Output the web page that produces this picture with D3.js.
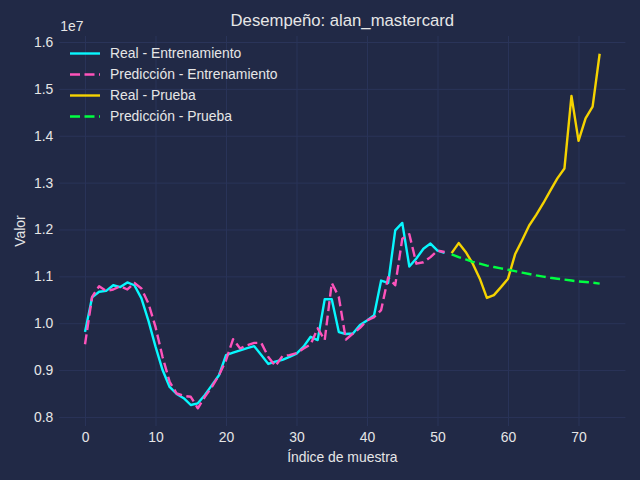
<!DOCTYPE html>
<html>
<head>
<meta charset="utf-8">
<script src="https://cdn.jsdelivr.net/npm/d3@7"></script>
<style>
  body { margin: 0; background: #212946; }
  svg { display: block; }
  text { font-family: "Liberation Sans", Arial, sans-serif; fill: #e6e6e6; }
</style>
</head>
<body>
<svg id="chart" width="640" height="480"></svg>
<script>
// valores (unidades reales, el eje muestra 1e7)
var realEntrenamiento = [
  9.815e6, 10.55e6, 10.67e6, 10.69e6, 10.81e6, 10.77e6, 10.87e6, 10.81e6, 10.53e6, 10.05e6,
  9.50e6, 9.00e6, 8.64e6, 8.49e6, 8.40e6, 8.255e6, 8.29e6, 8.47e6, 8.68e6, 8.89e6,
  9.32e6, 9.37e6, 9.42e6, 9.47e6, 9.51e6, 9.32e6, 9.13e6, 9.18e6, 9.22e6, 9.28e6,
  9.35e6, 9.50e6, 9.71e6, 9.64e6, 10.51e6, 10.51e6, 9.81e6, 9.77e6, 9.78e6, 9.96e6,
  10.06e6, 10.17e6, 10.91e6, 10.86e6, 11.98e6, 12.14e6, 11.21e6, 11.38e6, 11.59e6, 11.70e6,
  11.55e6, 11.50e6
];
var prediccionEntrenamiento = [
  9.55e6, 10.56e6, 10.79e6, 10.69e6, 10.72e6, 10.79e6, 10.72e6, 10.86e6, 10.74e6, 10.42e6,
  9.92e6, 9.28e6, 8.75e6, 8.50e6, 8.45e6, 8.43e6, 8.185e6, 8.43e6, 8.64e6, 8.89e6,
  9.21e6, 9.66e6, 9.46e6, 9.53e6, 9.58e6, 9.58e6, 9.28e6, 9.085e6, 9.30e6, 9.32e6,
  9.36e6, 9.46e6, 9.55e6, 9.89e6, 9.64e6, 10.86e6, 10.56e6, 9.65e6, 9.78e6, 9.90e6,
  10.06e6, 10.13e6, 10.28e6, 10.98e6, 10.81e6, 11.80e6, 11.90e6, 11.27e6, 11.30e6, 11.41e6,
  11.55e6, 11.52e6
];
var realPrueba = [
  11.496e6, 11.71e6, 11.52e6, 11.27e6, 10.95e6, 10.54e6, 10.60e6, 10.77e6, 10.95e6, 11.47e6,
  11.77e6, 12.085e6, 12.31e6, 12.56e6, 12.83e6, 13.09e6, 13.30e6, 14.85e6, 13.89e6, 14.37e6,
  14.62e6, 15.75e6
];
var prediccionPrueba = [
  11.47e6, 11.41e6, 11.36e6, 11.31e6, 11.27e6, 11.23e6, 11.20e6, 11.17e6, 11.14e6, 11.11e6,
  11.08e6, 11.05e6, 11.02e6, 10.995e6, 10.97e6, 10.95e6, 10.93e6, 10.91e6, 10.89e6, 10.88e6,
  10.865e6, 10.845e6
];
var inicioPrueba = realEntrenamiento.length; // 52

var series = [
  {nombre: "Real - Entrenamiento", valores: realEntrenamiento, inicio: 0, color: "#08F7FE", guion: null},
  {nombre: "Predicción - Entrenamiento", valores: prediccionEntrenamiento, inicio: 0, color: "#FE53BB", guion: "10,4.5"},
  {nombre: "Real - Prueba", valores: realPrueba, inicio: inicioPrueba, color: "#F5D300", guion: null},
  {nombre: "Predicción - Prueba", valores: prediccionPrueba, inicio: inicioPrueba, color: "#00ff41", guion: "10,4.5"}
];

var W = 640, H = 480;
var margen = {izq: 59.3, der: 14.6, arr: 36, abj: 54};

var svg = d3.select("#chart");

// dominios con 5% de margen, como matplotlib
var todos = [];
series.forEach(function(s){ todos.push(...s.valores); });
var yMin = d3.min(todos), yMax = d3.max(todos);
var yPad = (yMax - yMin) * 0.05;
var xMax = inicioPrueba + realPrueba.length - 1;
var xPad = xMax * 0.05;

var x = d3.scaleLinear().domain([-xPad, xMax + xPad]).range([margen.izq, W - margen.der]);
var y = d3.scaleLinear().domain([yMin - yPad, yMax + yPad]).range([H - margen.abj, margen.arr]);

// rejilla
var ticksX = d3.range(0, 71, 10);
var ticksY = d3.range(8e6, 16.01e6, 1e6);

var ejeX = d3.axisBottom(x).tickValues(ticksX).tickSize(-(H - margen.arr - margen.abj)).tickPadding(6).tickFormat(d3.format("d"));
var ejeY = d3.axisLeft(y).tickValues(ticksY).tickSize(-(W - margen.izq - margen.der)).tickPadding(6)
  .tickFormat(function(d){ return (d / 1e7).toFixed(1); });

var gX = svg.append("g").attr("transform", "translate(0," + (H - margen.abj) + ")").call(ejeX);
var gY = svg.append("g").attr("transform", "translate(" + margen.izq + ",0)").call(ejeY);

[gX, gY].forEach(function(g){
  g.select(".domain").remove();
  g.selectAll(".tick line").attr("stroke", "#2A3459").attr("stroke-width", 1);
  g.selectAll(".tick text").attr("fill", "#e6e6e6").style("font-size", "13.9px")
    .style("font-family", "'Liberation Sans', Arial, sans-serif");
});

// lineas
var linea = function(s){
  return d3.line()
    .x(function(d, i){ return x(s.inicio + i); })
    .y(function(d){ return y(d); })(s.valores);
};

series.forEach(function(s){
  svg.append("path")
    .attr("d", linea(s))
    .attr("fill", "none")
    .attr("stroke", s.color)
    .attr("stroke-width", 2.4)
    .attr("stroke-linejoin", "round")
    .attr("stroke-dasharray", s.guion);
});

// textos
svg.append("text").attr("x", (margen.izq + W - margen.der) / 2).attr("y", 26)
  .attr("text-anchor", "middle").style("font-size", "16.7px").text("Desempeño: alan_mastercard");

svg.append("text").attr("x", (margen.izq + W - margen.der) / 2).attr("y", 462)
  .attr("text-anchor", "middle").style("font-size", "13.9px").text("Índice de muestra");

svg.append("text").attr("transform", "translate(25," + ((margen.arr + H - margen.abj) / 2) + ") rotate(-90)")
  .attr("text-anchor", "middle").style("font-size", "13.9px").text("Valor");

svg.append("text").attr("x", margen.izq + 1).attr("y", 31).style("font-size", "13.9px").text("1e7");

// leyenda
var leyenda = svg.append("g").attr("transform", "translate(70,53.5)");
series.forEach(function(s, i){
  var fila = leyenda.append("g").attr("transform", "translate(0," + (i * 21) + ")");
  fila.append("line").attr("x1", 0).attr("x2", 30).attr("y1", 0).attr("y2", 0)
    .attr("stroke", s.color).attr("stroke-width", 2.4).attr("stroke-dasharray", s.guion);
  fila.append("text").attr("x", 40).attr("y", 0).attr("dy", "0.35em")
    .style("font-size", "13.9px").text(s.nombre);
});
</script>
</body>
</html>
